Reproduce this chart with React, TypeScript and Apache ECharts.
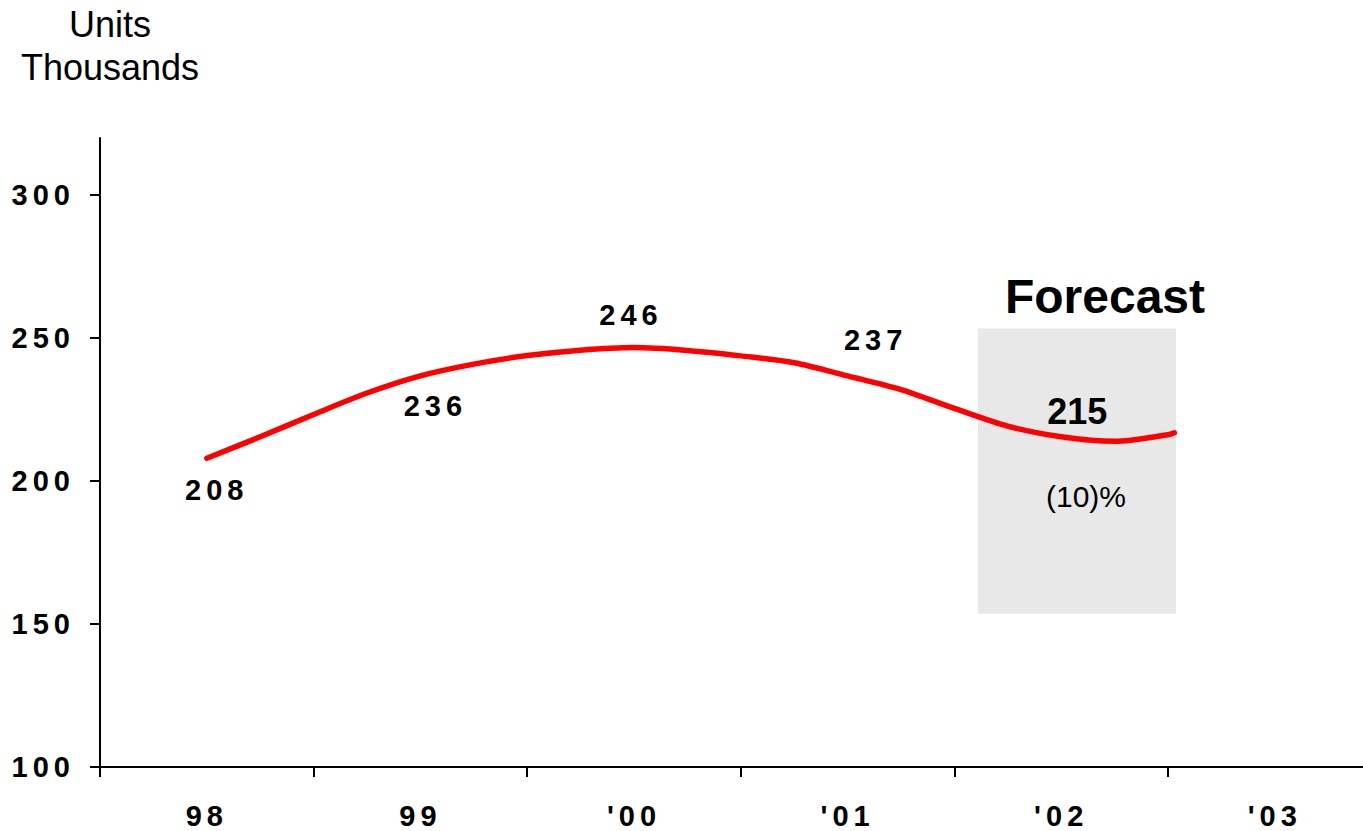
import React, { useEffect, useRef } from "react";
import * as echarts from "echarts";

// ---- data ----
const years = ["98", "99", "'00", "'01", "'02", "'03"];
const quarterPos = [0.5, 0.75, 1.0, 1.25, 1.5, 1.75, 2.0, 2.25, 2.5, 2.75, 3.0, 3.25, 3.5, 3.75, 4.0, 4.25, 4.5, 4.75, 5.0, 5.03];
const unitsThousands = [208, 215.5, 223.3, 230.8, 236.8, 240.9, 243.9, 245.8, 246.7, 245.7, 243.8, 241.4, 236.8, 232.0, 225.4, 219.2, 215.5, 213.9, 216.2, 216.9];
const annualPos = [0.5, 1.5, 2.5, 3.5];
const annualValues = [208, 236, 246, 237];
const forecastPos = 4.5;
const forecastValue = 215;
const forecastChange = "(10)%";
const forecastTitle = "Forecast";
const yTicks = [100, 150, 200, 250, 300];
const forecastBandX = [4.11, 5.037];
const forecastBandY = [153.6, 253.4];

// ---- layout / style ----
const FONT = "'Liberation Sans', Arial, Helvetica, sans-serif";
const annualOffsets = [[10, 32], [15, 28], [-3, -35], [28, -35]];
const forecastOffset = [16, -27];
const SPACING = 5;

export default function App() {
  const ref = useRef<HTMLDivElement>(null);

  useEffect(() => {
    const chart = echarts.init(ref.current!, null, { renderer: "svg" });
    const spaced = new Set<string>([
      ...yTicks.map(String),
      ...years,
      ...annualValues.map(String),
    ]);

    const option: any = {
      animation: false,
      backgroundColor: "#ffffff",
      textStyle: { fontFamily: FONT },
      grid: {
        left: 100,
        top: 138,
        right: -18.6,
        bottom: 64,
        containLabel: false,
        outerBoundsMode: "none",
      },
      xAxis: [
        {
          type: "value",
          min: 0,
          max: 6,
          interval: 1,
          position: "bottom",
          axisLine: { show: true, onZero: false, lineStyle: { color: "#000", width: 2 } },
          axisTick: { show: true, length: 10, lineStyle: { color: "#000", width: 2 } },
          axisLabel: { show: false },
          splitLine: { show: false },
        },
        {
          type: "category",
          data: years,
          position: "bottom",
          boundaryGap: true,
          axisLine: { show: false },
          axisTick: { show: false },
          axisLabel: {
            show: true,
            margin: 34,
            color: "#000",
            fontFamily: FONT,
            fontWeight: "bold",
            fontSize: 29,
          },
          splitLine: { show: false },
        },
      ],
      yAxis: {
        type: "value",
        min: 100,
        max: 320,
        interval: 50,
        axisLine: { show: true, lineStyle: { color: "#000", width: 2 } },
        axisTick: {
          show: true,
          length: 10,
          customValues: yTicks,
          lineStyle: { color: "#000", width: 2 },
        },
        axisLabel: {
          show: true,
          customValues: yTicks,
          margin: 25,
          color: "#000",
          fontFamily: FONT,
          fontWeight: "bold",
          fontSize: 29,
          formatter: (v: number) => (yTicks.includes(v) ? String(v) : ""),
        },
        splitLine: { show: false },
      },
      series: [
        {
          type: "line",
          xAxisIndex: 0,
          yAxisIndex: 0,
          data: [],
          silent: true,
          z: 1,
          markArea: {
            silent: true,
            itemStyle: { color: "#e8e8e8" },
            label: { show: false },
            data: [
              [
                { xAxis: forecastBandX[0], yAxis: forecastBandY[1] },
                { xAxis: forecastBandX[1], yAxis: forecastBandY[0] },
              ],
            ],
          },
        },
        {
          type: "line",
          xAxisIndex: 0,
          yAxisIndex: 0,
          z: 3,
          data: quarterPos.map((x, i) => [x, unitsThousands[i]]),
          smooth: 0.3,
          symbol: "none",
          lineStyle: { color: "#ff0000", width: 5.5, cap: "round", join: "round" },
          silent: true,
          markPoint: {
            silent: true,
            symbol: "circle",
            symbolSize: 1,
            itemStyle: { color: "rgba(0,0,0,0)" },
            label: {
              show: true,
              position: "inside",
              color: "#000",
              fontFamily: FONT,
              fontWeight: "bold",
              fontSize: 29,
              align: "center",
              verticalAlign: "middle",
            },
            data: [
              ...annualPos.map((x, i) => ({
                coord: [x, annualValues[i]],
                value: annualValues[i],
                label: { formatter: String(annualValues[i]), offset: annualOffsets[i] },
              })),
              {
                coord: [forecastPos, forecastValue],
                value: forecastValue,
                label: {
                  formatter: String(forecastValue),
                  offset: forecastOffset,
                  fontSize: 36,
                },
              },
            ],
          },
        },
      ],
      graphic: [
        {
          type: "text",
          z: 100,
          x: 110,
          y: 3,
          style: {
            text: "Units\nThousands",
            font: `36px ${FONT}`,
            fill: "#000",
            textAlign: "center",
            align: "center",
            textVerticalAlign: "top",
            verticalAlign: "top",
            lineHeight: 43,
          },
        },
        {
          type: "text",
          z: 100,
          x: 1105,
          y: 296,
          style: {
            text: forecastTitle,
            font: `bold 48px ${FONT}`,
            fill: "#000",
            textAlign: "center",
            align: "center",
            textVerticalAlign: "middle",
            verticalAlign: "middle",
          },
        },
        {
          type: "text",
          z: 100,
          x: 1086,
          y: 496,
          style: {
            text: forecastChange,
            font: `30px ${FONT}`,
            fill: "#000",
            textAlign: "center",
            align: "center",
            textVerticalAlign: "middle",
            verticalAlign: "middle",
          },
        },
      ],
    };

    chart.setOption(option);

    const applySpacing = () => {
      const root = ref.current;
      if (!root) return;
      root.querySelectorAll("text").forEach((t) => {
        const s = (t.textContent || "").trim();
        if (spaced.has(s)) t.setAttribute("letter-spacing", String(SPACING));
      });
    };
    applySpacing();
    chart.on("finished", applySpacing);
    const raf = requestAnimationFrame(applySpacing);

    return () => {
      cancelAnimationFrame(raf);
      chart.dispose();
    };
  }, []);

  return (
    <div
      ref={ref}
      style={{ position: "absolute", left: 0, top: 0, width: 1363, height: 831, background: "#fff" }}
    />
  );
}
